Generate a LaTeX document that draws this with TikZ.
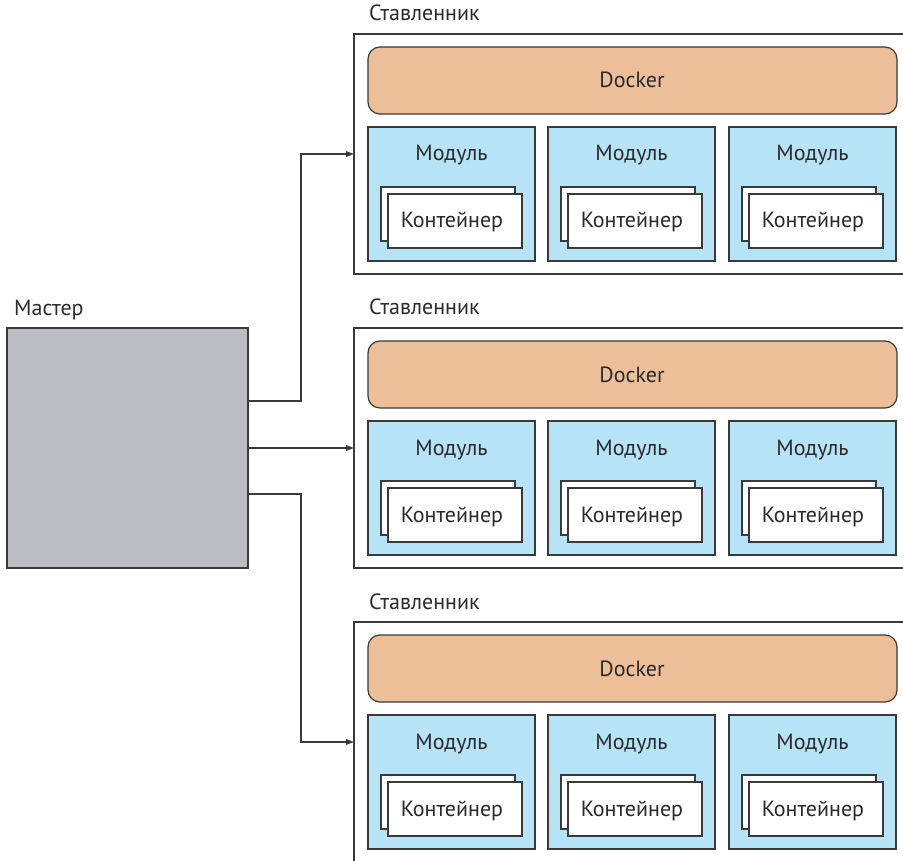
\documentclass[tikz,border=0pt]{standalone}
\usepackage{fontspec}
\setmainfont{PT Sans}
\usetikzlibrary{arrows.meta}
\definecolor{dockfill}{HTML}{EDBF98}
\definecolor{modfill}{HTML}{B7E3F6}
\definecolor{mastfill}{HTML}{BCBDC0}
\definecolor{strk}{HTML}{3A3A3A}
\definecolor{txtc}{HTML}{2A2A2A}
\begin{document}
\begin{tikzpicture}[x=1pt,y=-1pt,
  box/.style={rectangle, inner sep=0pt, outer sep=0pt, draw=strk},
  wbox/.style={box, line width=1.3pt, fill=white},
  dock/.style={box, line width=1.2pt, fill=dockfill, rounded corners=12pt},
  mod/.style={box, line width=1.2pt, fill=modfill},
  cont/.style={box, line width=1.2pt, fill=white},
  mast/.style={box, line width=1.2pt, fill=mastfill},
  txt/.style={inner sep=0pt, text=txtc, font=\fontsize{22}{26}\selectfont},
  conn/.style={draw=strk, line width=1.3pt, -{Triangle[length=8pt,width=5.5pt]}}
]
\useasboundingbox (0,0) rectangle (903,861);

\foreach \i in {0,1,2} {
  \pgfmathsetmacro{\dy}{294*\i}
  \node[txt, anchor=base west] (wl\i) at (369, 21+\dy) {Ставленник};
  \node[wbox, anchor=north west, minimum width=570, minimum height=240] (w\i) at (354, 34+\dy) {};
  \node[dock, anchor=north west, minimum width=529, minimum height=67] (d\i) at (368, 47+\dy) {};
  \node[txt, anchor=base] (dt\i) at (632, 88+\dy) {Docker};
  \foreach \j/\mx in {0/368,1/548,2/729} {
    \node[mod, anchor=north west, minimum width=167, minimum height=134] (m\i\j) at (\mx, 127+\dy) {};
    \node[txt, anchor=base] (mt\i\j) at (\mx+83.5, 161+\dy) {Модуль};
    \node[cont, anchor=north west, minimum width=134, minimum height=54] (cb\i\j) at (\mx+13, 187+\dy) {};
    \node[cont, anchor=north west, minimum width=134, minimum height=54] (cf\i\j) at (\mx+20, 194+\dy) {};
    \node[txt, anchor=base] (ct\i\j) at (\mx+84, 228+\dy) {Контейнер};
  }
}

\node[txt, anchor=base west] (ml) at (14, 316) {Мастер};
\node[mast, anchor=north west, minimum width=241, minimum height=240] (ma) at (7, 328) {};

\draw[conn] ([yshift=47pt]ma.east) -- ++(53,0) |- (w0.west);
\draw[conn] (ma.east) -- (ma.east -| w1.west);
\draw[conn] ([yshift=-46pt]ma.east) -- ++(53,0) |- (w2.west);
\end{tikzpicture}
\end{document}
